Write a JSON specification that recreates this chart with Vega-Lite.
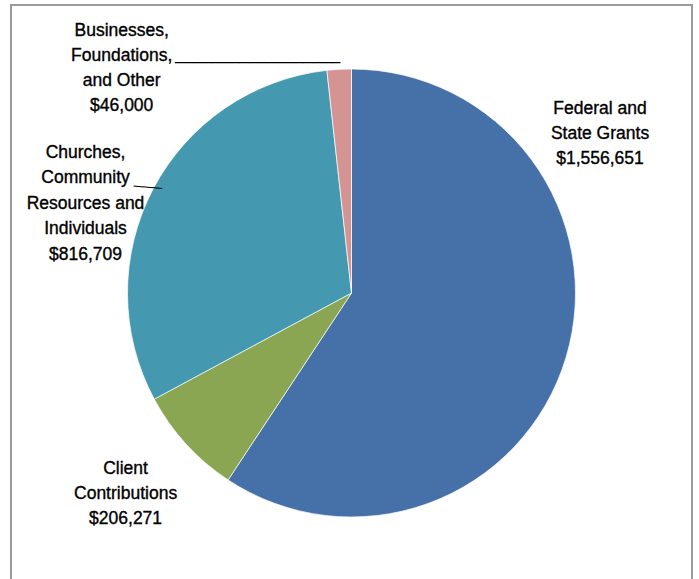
{
  "$schema": "https://vega.github.io/schema/vega-lite/v6.json",
  "width": 681,
  "height": 576,
  "padding": {"left": 11, "top": 5, "right": 7, "bottom": -2},
  "autosize": {"type": "none"},
  "background": "white",
  "view": {"stroke": "#9a9a9a", "strokeWidth": 2},
  "config": {
    "view": {"stroke": "#9a9a9a", "strokeWidth": 2},
    "text": {"font": "Liberation Sans", "color": "#000000"}
  },
  "data": {
    "values": [
      {"order": 1, "source": "Federal and State Grants", "amount": 1556651, "label": "Federal and\nState Grants\n$1,556,651"},
      {"order": 2, "source": "Client Contributions", "amount": 206271, "label": "Client\nContributions\n$206,271"},
      {"order": 3, "source": "Churches, Community Resources and Individuals", "amount": 816709, "label": "Churches,\nCommunity\nResources and\nIndividuals\n$816,709"},
      {"order": 4, "source": "Businesses, Foundations, and Other", "amount": 46000, "label": "Businesses,\nFoundations,\nand Other\n$46,000"}
    ]
  },
  "transform": [
    {"stack": "amount", "groupby": [], "sort": [{"field": "order", "order": "ascending"}], "as": ["t0", "t1"]},
    {"calculate": "(datum.t0 + datum.t1) / 2", "as": "mid"}
  ],
  "layer": [
    {
      "mark": {"type": "arc", "radius": 224, "stroke": "#ffffff", "strokeWidth": 0.7},
      "encoding": {
        "theta": {"field": "amount", "type": "quantitative", "stack": true},
        "order": {"field": "order", "type": "quantitative"},
        "color": {
          "field": "source",
          "type": "nominal",
          "scale": {
            "domain": ["Federal and State Grants", "Client Contributions", "Churches, Community Resources and Individuals", "Businesses, Foundations, and Other"],
            "range": ["#4571A8", "#8AA652", "#4499B1", "#D49494"]
          },
          "legend": null
        }
      }
    },
    {
      "transform": [{"filter": "datum.order == 1"}],
      "mark": {"type": "text", "radius": 260, "dx": -0.5, "dy": -259.2, "fontSize": 17.5, "lineHeight": 25, "align": "center", "baseline": "middle", "lineBreak": "\n", "stroke": "#000000", "strokeWidth": 0.35},
      "encoding": {"theta": {"field": "mid", "type": "quantitative", "stack": null}, "text": {"field": "label"}}
    },
    {
      "transform": [{"filter": "datum.order == 2"}],
      "mark": {"type": "text", "radius": 260, "dx": -34, "dy": 1, "fontSize": 17.5, "lineHeight": 25, "align": "center", "baseline": "middle", "lineBreak": "\n", "stroke": "#000000", "strokeWidth": 0.35},
      "encoding": {"theta": {"field": "mid", "type": "quantitative", "stack": null}, "text": {"field": "label"}}
    },
    {
      "transform": [{"filter": "datum.order == 3"}],
      "mark": {"type": "text", "radius": 260, "dx": -35.8, "dy": -19.5, "fontSize": 17.5, "lineHeight": 25.5, "align": "center", "baseline": "middle", "lineBreak": "\n", "stroke": "#000000", "strokeWidth": 0.35},
      "encoding": {"theta": {"field": "mid", "type": "quantitative", "stack": null}, "text": {"field": "label"}}
    },
    {
      "transform": [{"filter": "datum.order == 4"}],
      "mark": {"type": "text", "radius": 260, "dx": -215.5, "dy": -2.5, "fontSize": 17.5, "lineHeight": 25, "align": "center", "baseline": "middle", "lineBreak": "\n", "stroke": "#000000", "strokeWidth": 0.35},
      "encoding": {"theta": {"field": "mid", "type": "quantitative", "stack": null}, "text": {"field": "label"}}
    },
    {
      "transform": [{"filter": "datum.order == 4"}],
      "mark": {"type": "text", "radius": 260, "dx": -79.5, "dy": 26.6, "fontSize": 16.5, "align": "center", "baseline": "alphabetic"},
      "encoding": {"theta": {"field": "mid", "type": "quantitative", "stack": null}, "text": {"value": "__________________"}}
    },
    {
      "transform": [{"filter": "datum.order == 3"}],
      "mark": {"type": "text", "radius": 260, "dx": 27.8, "dy": 9.9, "angle": 5, "fontSize": 17, "align": "center", "baseline": "alphabetic"},
      "encoding": {"theta": {"field": "mid", "type": "quantitative", "stack": null}, "text": {"value": "___"}}
    }
  ]
}
